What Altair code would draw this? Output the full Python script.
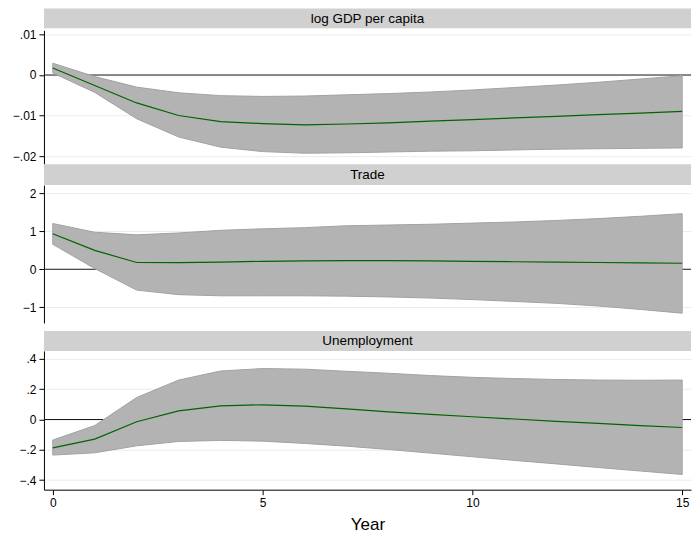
import altair as alt
import pandas as pd

steps = list(range(16))

panel_titles = ["log GDP per capita", "Trade", "Unemployment"]

gdp_mean = [0.0017, -0.0026, -0.0069, -0.0100, -0.0115, -0.0120, -0.0123, -0.0121,
            -0.0118, -0.0114, -0.0110, -0.0106, -0.0102, -0.0098, -0.0094, -0.0090]
gdp_upper = [0.0029, -0.0004, -0.0030, -0.0044, -0.0051, -0.0053, -0.0052, -0.0049,
             -0.0046, -0.0042, -0.0037, -0.0031, -0.0025, -0.0018, -0.0010, -0.0002]
gdp_lower = [0.0005, -0.0043, -0.0108, -0.0153, -0.0178, -0.0189, -0.0193, -0.0192,
             -0.0190, -0.0188, -0.0187, -0.0185, -0.0183, -0.0182, -0.0181, -0.0180]

trade_mean = [0.94, 0.50, 0.18, 0.175, 0.19, 0.21, 0.22, 0.23,
              0.23, 0.22, 0.21, 0.20, 0.19, 0.18, 0.17, 0.16]
trade_upper = [1.21, 0.98, 0.91, 0.96, 1.03, 1.07, 1.10, 1.15,
               1.17, 1.19, 1.22, 1.25, 1.29, 1.34, 1.40, 1.47]
trade_lower = [0.66, 0.02, -0.55, -0.67, -0.70, -0.70, -0.70, -0.71,
               -0.73, -0.76, -0.80, -0.85, -0.90, -0.97, -1.06, -1.16]

unemp_mean = [-0.187, -0.13, -0.015, 0.057, 0.09, 0.097, 0.088, 0.07,
              0.05, 0.034, 0.018, 0.003, -0.012, -0.026, -0.04, -0.053]
unemp_upper = [-0.136, -0.04, 0.145, 0.26, 0.32, 0.336, 0.332, 0.318,
               0.305, 0.29, 0.278, 0.27, 0.264, 0.26, 0.259, 0.26]
unemp_lower = [-0.235, -0.22, -0.174, -0.145, -0.138, -0.143, -0.158, -0.176,
               -0.198, -0.222, -0.246, -0.27, -0.293, -0.317, -0.34, -0.363]

x_ticks = [0, 5, 10, 15]
gdp_ticks = [-0.02, -0.01, 0, 0.01]
trade_ticks = [-1, 0, 1, 2]
unemp_ticks = [-0.4, -0.2, 0, 0.2, 0.4]

W = 648
FONT = "Liberation Sans"
x_scale = alt.Scale(domain=[-0.21, 15.21], nice=False, zero=False)


def strip(title, height, top):
    src = alt.Data(values=[{"t": title}])
    rect = alt.Chart(src).mark_rect(color="#d0d0d0").encode(
        x=alt.value(0), x2=alt.value(W), y=alt.value(top), y2=alt.value(height)
    )
    txt = alt.Chart(src).mark_text(
        font=FONT, fontSize=13.5, color="black", baseline="middle", align="center"
    ).encode(x=alt.value(W / 2), y=alt.value(top + (height - top) / 2 + 0.5), text="t:N")
    return alt.layer(rect, txt).properties(width=W, height=height)


def panel(mean, lower, upper, domain, ticks, fmt, height, show_x):
    df = pd.DataFrame({"step": steps, "mean": mean, "lo": lower, "hi": upper})
    yscale = alt.Scale(domain=domain, nice=False, zero=False)
    yaxis = alt.Axis(
        values=ticks,
        labelExpr=("datum.value == 0 ? '0' : (datum.value < 0 ? '\u2212' : '') + "
                   "replace(format(abs(datum.value), '%s'), '0.', '.')" % fmt),
        title=None, grid=True, gridColor="#e6eef0", gridWidth=1,
        domainColor="black", domainWidth=1, tickColor="black", tickSize=5,
        labelFont=FONT, labelFontSize=12, labelColor="black", labelPadding=3,
        minExtent=36, maxExtent=36,
    )
    if show_x:
        xaxis = alt.Axis(
            values=x_ticks, format="d", title="Year", grid=False,
            domainColor="black", tickColor="black", tickSize=5,
            labelFont=FONT, labelFontSize=12, labelColor="black", labelPadding=3,
            titleFont=FONT, titleFontSize=17, titleFontWeight="normal",
            titleColor="black", titlePadding=8,
        )
    else:
        xaxis = None
    base = alt.Chart(df)
    zero = alt.Chart(pd.DataFrame({"z": [0]})).mark_rule(
        color="#1a1a1a", strokeWidth=1.1
    ).encode(y=alt.Y("z:Q", scale=yscale, axis=yaxis))
    band = base.mark_area(
        fill="#b3b3b3", stroke="#a2a2a2", strokeWidth=1, opacity=1
    ).encode(
        x=alt.X("step:Q", scale=x_scale, axis=xaxis),
        y=alt.Y("lo:Q", scale=yscale, axis=yaxis),
        y2="hi:Q",
    )
    line = base.mark_line(color="#006400", strokeWidth=1.2).encode(
        x=alt.X("step:Q", scale=x_scale, axis=xaxis),
        y=alt.Y("mean:Q", scale=yscale, axis=yaxis),
    )
    return alt.layer(zero, band, line).properties(width=W, height=height)


p1 = panel(gdp_mean, gdp_lower, gdp_upper, [-0.0220, 0.0110], gdp_ticks, ".2f", 134, False)
p2 = panel(trade_mean, trade_lower, trade_upper, [-1.417, 2.224], trade_ticks, "d", 138, False)
p3 = panel(unemp_mean, unemp_lower, unemp_upper, [-0.4633, 0.4527], unemp_ticks, ".1f", 139, True)

chart = alt.vconcat(
    strip(panel_titles[0], 20, 0), p1,
    strip(panel_titles[1], 21, 0), p2,
    strip(panel_titles[2], 28, 8), p3,
    spacing=0,
).properties(padding=0, background="white").configure_view(stroke=None)

chart.save("out.html", embed_options={"renderer": "svg", "actions": False})
